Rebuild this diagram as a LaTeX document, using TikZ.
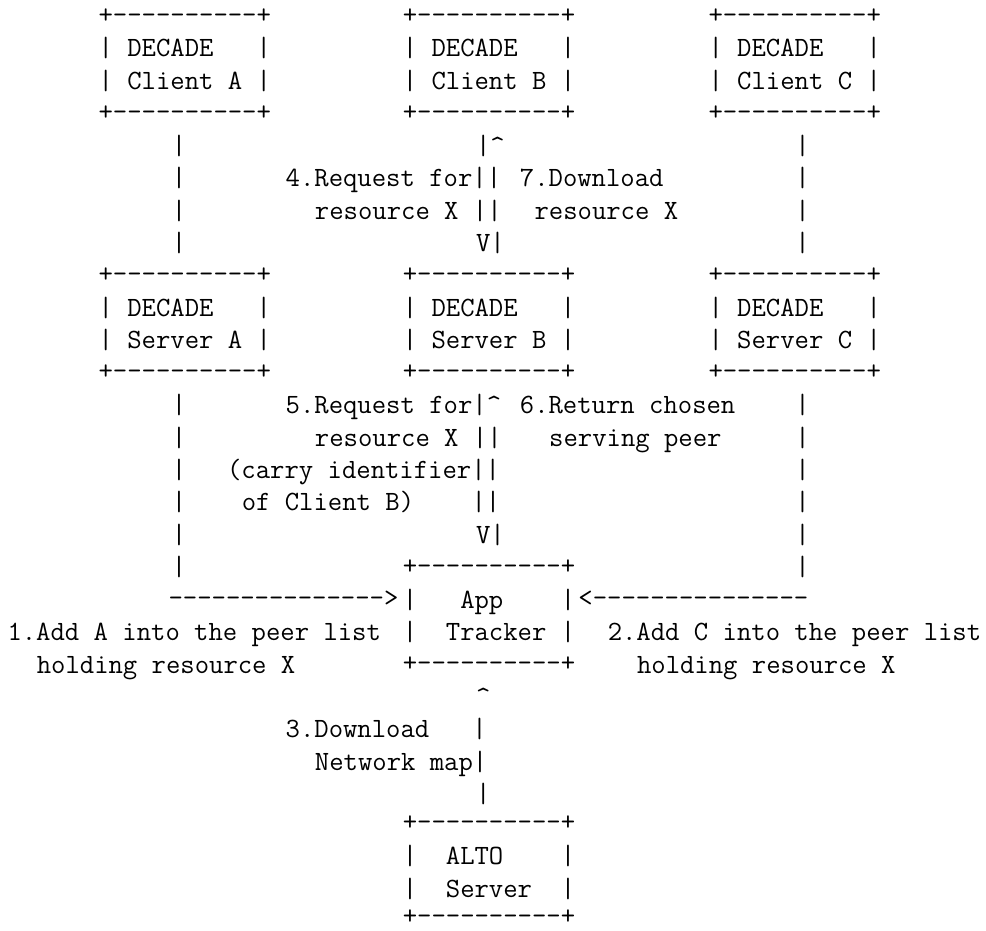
\documentclass[tikz,border=0pt]{standalone}
\newcommand\hyph[1]{\foreach\hyi in {1,...,#1}{-\kern0pt}}
\newcommand\bord{+\hyph{10}+}
\newcommand\crt{\textasciicircum}
\def\xL{98.6}\def\xM{402.8}\def\xR{708.5}\def\cw{14.64}\def\xU{171.9}\def\xV{795.3}
\newcommand\asc[5][tt]{\node[#1] (#2) at ({#3},{24.5+32.43*#4}) {#5};}
\begin{document}
\begin{tikzpicture}[x=1pt,y=-1pt,
  tt/.style={inner sep=0pt,outer sep=0pt,anchor=base west,text=black,
    font=\ttfamily\fontsize{27.89}{32.43}\selectfont},
  bd/.style={tt,yshift=1.5pt},
  altorow/.style={tt,yshift=3pt},
  altotop/.style={tt,yshift=4.5pt},
  altobottom/.style={tt,yshift=8.5pt}]
\fill[white] (0,0) rectangle (986,930);
\useasboundingbox (0,0) rectangle (986,930);
% clients
\asc[bd]{cA0}{\xL}{0}{\bord}
\asc[bd]{cB0}{\xM}{0}{\bord}
\asc[bd]{cC0}{\xR}{0}{\bord}
\asc{cA1}{\xL}{1}{|~DECADE~~~|}
\asc{cB1}{\xM}{1}{|~DECADE~~~|}
\asc{cC1}{\xR}{1}{|~DECADE~~~|}
\asc{cA2}{\xL}{2}{|~Client~A~|}
\asc{cB2}{\xM}{2}{|~Client~B~|}
\asc{cC2}{\xR}{2}{|~Client~C~|}
\asc[bd]{cA3}{\xL}{3}{\bord}
\asc[bd]{cB3}{\xM}{3}{\bord}
\asc[bd]{cC3}{\xR}{3}{\bord}
% client-server links
\foreach \r in {4,...,7}{\asc{vl\r}{\xU}{\r}{|}\asc{vr\r}{\xV}{\r}{|}}
\asc{m4}{\xM+5*\cw}{4}{|\crt}
\asc{m5}{\xM-8*\cw}{5}{4.Request~for||}
\asc{k7a}{\xM+8*\cw}{5}{7.Download}
\asc{m6}{\xM-6*\cw}{6}{resource~X~||}
\asc{k7b}{\xM+9*\cw}{6}{resource~X}
\asc{m7}{\xM+5*\cw}{7}{V|}
% servers
\asc[bd]{sA8}{\xL}{8}{\bord}
\asc[bd]{sB8}{\xM}{8}{\bord}
\asc[bd]{sC8}{\xR}{8}{\bord}
\asc{sA9}{\xL}{9}{|~DECADE~~~|}
\asc{sB9}{\xM}{9}{|~DECADE~~~|}
\asc{sC9}{\xR}{9}{|~DECADE~~~|}
\asc{sA10}{\xL}{10}{|~Server~A~|}
\asc{sB10}{\xM}{10}{|~Server~B~|}
\asc{sC10}{\xR}{10}{|~Server~C~|}
\asc[bd]{sA11}{\xL}{11}{\bord}
\asc[bd]{sB11}{\xM}{11}{\bord}
\asc[bd]{sC11}{\xR}{11}{\bord}
% server-tracker links
\foreach \r in {12,...,17}{\asc{vl\r}{\xU}{\r}{|}\asc{vr\r}{\xV}{\r}{|}}
\asc{m12}{\xM-8*\cw}{12}{5.Request~for|\crt}
\asc{k6a}{\xM+8*\cw}{12}{6.Return~chosen}
\asc{m13}{\xM-6*\cw}{13}{resource~X~||}
\asc{k6b}{\xM+10*\cw}{13}{serving~peer}
\asc{m14}{\xM-12*\cw}{14}{(carry~identifier||}
\asc{m15}{\xM-11*\cw}{15}{of~Client~B)~~~~||}
\asc{m16}{\xM+5*\cw}{16}{V|}
% tracker
\asc[bd]{t17}{\xM}{17}{\bord}
\asc[bd]{la18}{\xM-16*\cw}{18}{\hyph{15}>}
\asc{t18}{\xM}{18}{|~~~App~~~~|}
\asc[bd]{ra18}{\xM+12*\cw}{18}{<\hyph{15}}
\asc{k1a}{\xM-27*\cw}{19}{1.Add~A~into~the~peer~list}
\asc{t19}{\xM}{19}{|~~Tracker~|}
\asc{k2a}{\xM+14*\cw}{19}{2.Add~C~into~the~peer~list}
\asc{k1b}{\xM-25*\cw}{20}{holding~resource~X}
\asc[bd]{t20}{\xM}{20}{\bord}
\asc{k2b}{\xM+16*\cw}{20}{holding~resource~X}
% alto link
\asc{a21}{\xM+5*\cw}{21}{\crt}
\asc{k3a}{\xM-8*\cw}{22}{3.Download~~~|}
\asc{k3b}{\xM-6*\cw}{23}{Network~map|}
\asc{a24}{\xM+5*\cw}{24}{|}
% alto server
\asc[altotop]{al25}{\xM}{25}{\bord}
\asc[altorow]{al26}{\xM}{26}{|~~ALTO~~~~|}
\asc[altorow]{al27}{\xM}{27}{|~~Server~~|}
\asc[altobottom]{al28}{\xM}{28}{\bord}
\end{tikzpicture}
\end{document}
